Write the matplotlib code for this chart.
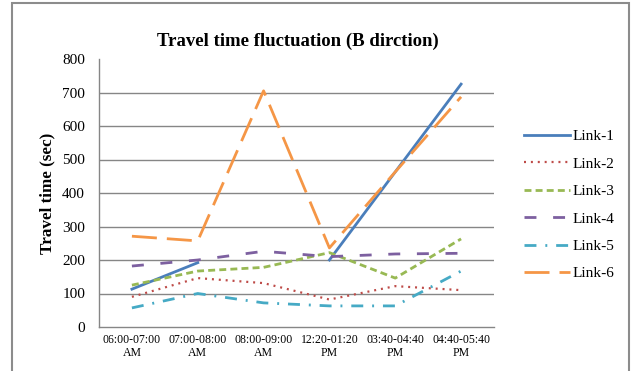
import numpy as np
import matplotlib
matplotlib.use("Agg")
import matplotlib.pyplot as plt
from matplotlib.patches import Rectangle

plt.rcParams["font.family"] = ["Liberation Serif", "DejaVu Serif"]

periods = ["06:00-07:00\nAM", "07:00-08:00\nAM", "08:00-09:00\nAM",
           "12:20-01:20\nPM", "03:40-04:40\nPM", "04:40-05:40\nPM"]
link1 = [113, 192, np.nan, 200, 463, 725]
link2 = [90, 146, 131, 82, 122, 110]
link3 = [125, 167, 178, 222, 146, 263]
link4 = [182, 200, 226, 210, 218, 220]
link5 = [57, 100, 72, 63, 63, 167]
link6 = [271, 257, 705, 236, 463, 687]

series = [
    ("Link-1", link1, "#4A7EBB", 2.0, "-"),
    ("Link-2", link2, "#BE4B48", 1.6, (0, (0.9, 2.2))),
    ("Link-3", link3, "#98B954", 2.0, (0, (2.5, 1.5))),
    ("Link-4", link4, "#7D60A0", 2.0, (0, (4.3, 6.0))),
    ("Link-5", link5, "#46AAC5", 2.0, (0, (4.3, 3.2, 0.7, 3.2))),
    ("Link-6", link6, "#F59646", 2.0, (0, (9.0, 3.6))),
]

fig = plt.figure(figsize=(6.32, 3.71), dpi=100)
ax = fig.add_axes([99 / 632, 1 - 327 / 371, 395 / 632, 268 / 371])

x = np.arange(len(periods))
for name, vals, col, lw, ls in series:
    ax.plot(x, vals, color=col, linewidth=lw, linestyle=ls, label=name)

ax.set_xlim(-0.5, len(periods) - 0.5)
ax.set_ylim(0, 800)
ax.set_yticks(range(0, 900, 100))
ax.set_xticks(x)
ax.set_xticklabels(periods, fontsize=8.5, linespacing=1.15)
ax.tick_params(axis="y", length=0, pad=10, labelsize=11)
ax.tick_params(axis="x", length=0, pad=5)

ax.yaxis.grid(True, color="#868686", linewidth=1.0)
ax.get_ygridlines()[0].set_visible(False)
ax.get_ygridlines()[-1].set_visible(False)
ax.set_axisbelow(True)
for s in ["top", "right"]:
    ax.spines[s].set_visible(False)
for s in ["left", "bottom"]:
    ax.spines[s].set_color("#868686")
    ax.spines[s].set_linewidth(1.0)

ax.set_ylabel("Travel time (sec)", fontsize=12.3, fontweight="bold", labelpad=5)
fig.text(298 / 632, 1 - 41 / 371, "Travel time fluctuation (B dirction)",
         ha="center", va="center", fontsize=13.5, fontweight="bold")

ax.legend(loc="center left", bbox_to_anchor=(518 / 632, 1 - 205 / 371),
          bbox_transform=fig.transFigure, frameon=False, fontsize=11,
          handlelength=3.0, handletextpad=0.15, labelspacing=0.9,
          borderaxespad=0)

fig.patches.append(Rectangle((12 / 632, -0.05), 617 / 632, 1.05 - 3 / 371,
                             transform=fig.transFigure, fill=False,
                             edgecolor="#8c8c8c", linewidth=1.5))

plt.savefig("out.png", dpi=100)
